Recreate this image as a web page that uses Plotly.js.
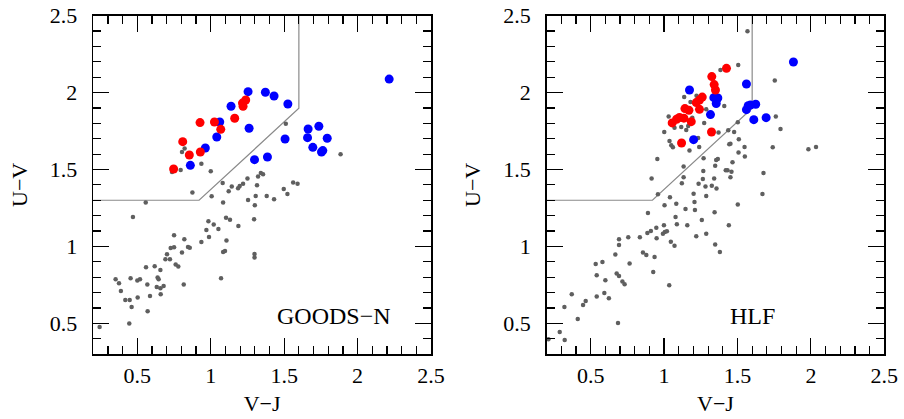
<!DOCTYPE html>
<html>
<head>
<meta charset="utf-8">
<script src="https://cdn.plot.ly/plotly-3.0.1.min.js"></script>
<style>html,body{margin:0;padding:0;background:#fff;}#plot{width:904px;height:419px;}</style>
</head>
<body>
<div id="plot"></div>
<script>
// ---- GOODS-N panel data ----
const gnGrayVJ = [1.511,1.884,0.822,0.804,0.936,0.795,0.736,1.000,0.875,1.081,1.006,1.084,1.143,1.122,1.186,1.197,1.220,1.250,1.315,1.322,1.341,1.356,1.254,1.306,1.300,1.381,1.431,1.497,1.522,1.561,1.591,0.557,
  0.470,1.104,1.131,1.295,1.188,0.984,1.020,1.052,0.970,0.988,0.936,1.107,1.084,1.097,1.298,1.298,1.070,0.750,0.820,0.727,0.750,0.804,0.845,0.857,0.702,0.691,0.722,0.761,0.779,0.816,0.559,0.618,0.657,0.638,0.645,0.632,0.657,0.679,0.659,0.568,0.586,0.570,0.500,0.518,0.454,0.352,0.375,0.388,0.418,0.448,0.461,0.502,0.445,0.243];
const gnGrayUV = [1.798,1.599,1.636,1.614,1.538,1.497,1.484,1.488,1.350,1.412,1.326,1.285,1.389,1.358,1.378,1.393,1.408,1.441,1.397,1.454,1.477,1.469,1.302,1.328,1.267,1.328,1.306,1.373,1.341,1.415,1.408,1.285,
  1.191,1.187,1.174,1.176,1.133,1.163,1.142,1.113,1.107,1.061,1.029,1.038,0.964,0.970,0.951,0.927,0.793,1.072,1.046,0.990,0.994,0.960,0.996,0.992,0.949,0.916,0.916,0.882,0.869,0.752,0.864,0.871,0.847,0.797,0.786,0.736,0.728,0.743,0.689,0.752,0.678,0.578,0.778,0.786,0.793,0.786,0.760,0.710,0.652,0.652,0.606,0.667,0.498,0.476];
const gnBlueVJ = [1.254,1.372,1.431,1.525,1.138,1.061,1.261,1.041,0.963,0.861,1.506,1.298,1.386,1.663,1.736,1.659,1.793,1.695,1.754,1.763,2.215];
const gnBlueUV = [2.006,2.002,1.978,1.926,1.911,1.809,1.768,1.711,1.640,1.527,1.698,1.564,1.581,1.763,1.781,1.707,1.703,1.644,1.614,1.623,2.088];
const gnRedVJ = [1.238,1.216,1.220,0.927,1.025,1.068,1.163,0.809,0.854,0.929,0.747];
const gnRedUV = [1.952,1.932,1.911,1.805,1.809,1.761,1.833,1.681,1.594,1.614,1.503];

// ---- HLF panel data ----
const hlfGrayVJ = [1.568,1.505,1.384,1.754,1.137,1.221,1.180,1.287,1.410,1.031,1.117,1.151,1.164,1.192,1.273,1.071,1.371,1.437,1.477,1.502,1.509,1.452,1.444,1.548,1.550,1.507,1.761,1.793,1.740,1.983,2.035,1.001,1.037,1.049,1.060,1.173,1.239,1.232,1.269,1.355,1.366,1.348,1.466,1.133,1.267,1.420,1.432,1.459,1.452,1.341,1.264,1.133,1.121,0.954,0.915,0.958,1.040,1.201,1.282,1.325,1.357,1.287,1.677,1.670,1.235,1.083,1.003,1.207,1.146,1.210,0.890,1.344,1.502,1.078,1.087,1.158,1.257,1.441,0.999,0.947,0.910,0.886,0.992,1.005,1.019,0.949,0.835,0.756,0.693,0.693,1.046,1.071,1.219,1.287,1.348,1.380,0.856,0.879,0.935,0.668,0.765,0.580,0.926,1.035,0.534,0.541,0.600,0.677,0.693,0.716,0.731,0.541,0.593,0.624,0.448,0.466,0.371,0.321,0.412,0.686,0.289,0.323,0.212];
const hlfGrayUV = [2.399,2.179,2.147,2.078,1.971,1.980,1.939,1.891,1.913,1.844,1.776,1.757,1.783,1.837,1.802,1.772,1.740,1.755,1.744,1.807,1.696,1.668,1.664,1.646,1.584,1.610,1.844,1.763,1.644,1.631,1.646,1.744,1.685,1.657,1.644,1.623,1.646,1.705,1.573,1.562,1.568,1.525,1.547,1.519,1.490,1.495,1.495,1.486,1.449,1.441,1.438,1.449,1.410,1.568,1.441,1.339,1.319,1.343,1.389,1.395,1.376,1.328,1.477,1.341,1.408,1.278,1.267,1.289,1.243,1.237,1.217,1.222,1.272,1.191,1.144,1.137,1.172,1.137,1.137,1.122,1.100,1.087,1.083,1.094,1.098,1.053,1.059,1.059,1.046,1.009,1.031,1.005,1.066,1.083,1.012,0.964,0.960,0.944,0.931,0.947,0.888,0.899,0.834,0.747,0.886,0.812,0.780,0.823,0.808,0.771,0.754,0.674,0.697,0.663,0.619,0.645,0.689,0.606,0.528,0.502,0.443,0.391,0.396];
const hlfBlueVJ = [1.173,1.561,1.881,1.339,1.366,1.355,1.316,1.201,1.573,1.588,1.624,1.561,1.611,1.695];
const hlfBlueUV = [2.017,2.056,2.199,1.967,1.965,1.929,1.857,1.694,1.915,1.919,1.924,1.889,1.824,1.837];
const hlfRedVJ = [1.425,1.325,1.341,1.350,1.260,1.241,1.219,1.241,1.142,1.169,1.055,1.085,1.105,1.135,1.185,1.323,1.119];
const hlfRedUV = [2.158,2.104,2.052,2.017,1.971,1.952,1.935,1.891,1.896,1.885,1.803,1.827,1.838,1.834,1.811,1.744,1.672];

// ---- UVJ quiescent selection boundary ----
const boxVJ = [0.2, 0.9205, 1.6, 1.6];
const boxUV = [1.3, 1.3, 1.898, 2.5];

// ---- ticks and labels ----
const xTickVals = [0.5, 1, 1.5, 2, 2.5];
const xTickText = ["0.5", "1", "1.5", "2", "2.5"];
const yTickVals = [0.5, 1, 1.5, 2, 2.5];
const yTickText = ["0.5", "1", "1.5", "2", "2.5"];
const panelNames = ["GOODS\u2212N", "HLF"];

const FONT = "Liberation Serif, Times New Roman, serif";
const GRAY = "#5f5f5f";

function pts(x, y, xa, ya, color, size) {
  return {x: x, y: y, xaxis: xa, yaxis: ya, type: "scatter", mode: "markers",
          marker: {color: color, size: size, line: {width: 0}}, hoverinfo: "x+y", showlegend: false};
}
function box(xa, ya) {
  return {x: boxVJ, y: boxUV, xaxis: xa, yaxis: ya, type: "scatter", mode: "lines",
          line: {color: "#8a8a8a", width: 1.2}, hoverinfo: "skip", showlegend: false};
}

const data = [
  box("x", "y"),
  pts(gnGrayVJ, gnGrayUV, "x", "y", GRAY, 4.5),
  pts(gnBlueVJ, gnBlueUV, "x", "y", "#0000ff", 9),
  pts(gnRedVJ, gnRedUV, "x", "y", "#ff0000", 9),
  box("x2", "y2"),
  pts(hlfGrayVJ, hlfGrayUV, "x2", "y2", GRAY, 4.5),
  pts(hlfBlueVJ, hlfBlueUV, "x2", "y2", "#0000ff", 9),
  pts(hlfRedVJ, hlfRedUV, "x2", "y2", "#ff0000", 9)
];

function xax(domain, anchor) {
  return {domain: domain, anchor: anchor, range: [0.2, 2.5], tickvals: xTickVals, ticktext: xTickText,
    ticks: "inside", ticklen: 16, tickwidth: 1.2, tickcolor: "#000",
    minor: {dtick: 0.1, tick0: 0, ticks: "inside", ticklen: 8, tickwidth: 1.2, tickcolor: "#000"},
    showline: true, linecolor: "#000", linewidth: 1.6, mirror: "ticks",
    showgrid: false, zeroline: false, ticklabelstandoff: 1,
    tickfont: {family: FONT, size: 22, color: "#000"},
    title: {text: "V\u2212J", font: {family: FONT, size: 22, color: "#000"}, standoff: 8}};
}
function yax(domain, anchor) {
  return {domain: domain, anchor: anchor, range: [0.3, 2.5], tickvals: yTickVals, ticktext: yTickText,
    ticks: "inside", ticklen: 16, tickwidth: 1.2, tickcolor: "#000",
    minor: {dtick: 0.1, tick0: 0, ticks: "inside", ticklen: 8, tickwidth: 1.2, tickcolor: "#000"},
    showline: true, linecolor: "#000", linewidth: 1.6, mirror: "ticks",
    showgrid: false, zeroline: false, ticklabelstandoff: 10,
    tickfont: {family: FONT, size: 22, color: "#000"},
    title: {text: "U\u2212V", font: {family: FONT, size: 22, color: "#000"}, standoff: 16}};
}

const layout = {
  width: 904, height: 419,
  margin: {l: 0, r: 0, t: 0, b: 0},
  paper_bgcolor: "#fff", plot_bgcolor: "#fff",
  showlegend: false,
  xaxis: xax([0.1032, 0.4768], "y"),
  yaxis: yax([0.155, 0.9625], "x"),
  xaxis2: xax([0.6047, 0.9782], "y2"),
  yaxis2: yax([0.155, 0.9625], "x2"),
  annotations: [
    {xref: "x", yref: "y", x: 1.84, y: 0.547, text: panelNames[0], showarrow: false,
     font: {family: FONT, size: 24, color: "#000"}, xanchor: "center", yanchor: "middle"},
    {xref: "x2", yref: "y2", x: 1.60, y: 0.547, text: panelNames[1], showarrow: false,
     font: {family: FONT, size: 24, color: "#000"}, xanchor: "center", yanchor: "middle"}
  ]
};

Plotly.newPlot("plot", data, layout, {staticPlot: true, displayModeBar: false});
</script>
</body>
</html>
